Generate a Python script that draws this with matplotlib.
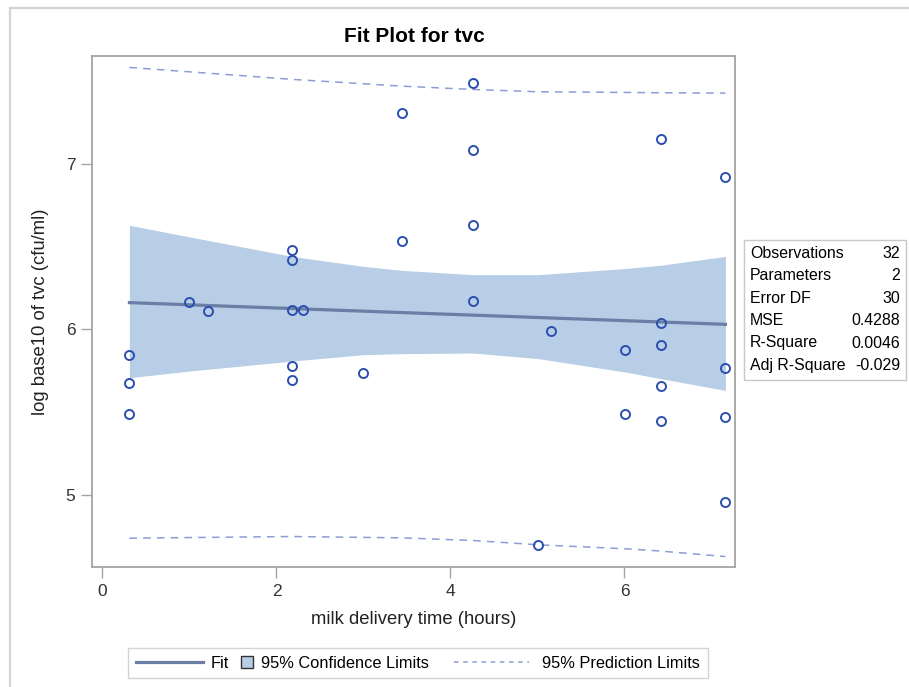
import matplotlib
matplotlib.use("Agg")
import matplotlib.pyplot as plt
from matplotlib.lines import Line2D
from matplotlib.patches import Rectangle, Patch
from matplotlib.legend_handler import HandlerBase

plt.rcParams['font.family'] = ['Liberation Sans', 'DejaVu Sans']

# ---- data ----
obs_x = [0.31, 0.31, 0.31, 1.00, 1.21,
         2.18, 2.18, 2.18, 2.18, 2.18, 2.31, 3.00,
         3.44, 3.44,
         4.26, 4.26, 4.26, 4.26,
         5.01, 5.16,
         6.01, 6.01,
         6.42, 6.42, 6.42, 6.42, 6.42,
         7.16, 7.16, 7.16, 7.16]
obs_y = [5.843, 5.674, 5.490, 6.162, 6.109,
         6.477, 6.417, 6.119, 5.780, 5.696, 6.119, 5.738,
         7.305, 6.532,
         7.488, 7.082, 6.627, 6.171,
         4.695, 5.988,
         5.875, 5.488,
         7.150, 6.038, 5.903, 5.660, 5.446,
         6.918, 5.764, 5.472, 4.955]

fit_x = [0.31, 7.16]
fit_y = [6.161, 6.030]

band_x = [0.31, 1.00, 2.18, 3.00, 3.44, 4.26, 5.01, 6.01, 6.42, 7.16]
clm_lo = [5.708, 5.748, 5.808, 5.847, 5.853, 5.857, 5.823, 5.742, 5.702, 5.631]
clm_hi = [6.628, 6.558, 6.440, 6.380, 6.356, 6.330, 6.330, 6.367, 6.387, 6.440]

pi_x = [0.31, 2.18, 3.44, 4.26, 5.01, 6.01, 6.42, 7.16]
pi_hi = [7.581, 7.509, 7.468, 7.448, 7.434, 7.430, 7.428, 7.426]
pi_lo = [4.739, 4.749, 4.741, 4.725, 4.699, 4.675, 4.661, 4.628]

x_ticks = [0, 2, 4, 6]
y_ticks = [5, 6, 7]

stat_labels = ["Observations", "Parameters", "Error DF", "MSE", "R-Square", "Adj R-Square"]
stat_values = ["32", "2", "30", "0.4288", "0.0046", "-0.029"]

legend_labels = ["Fit", "95% Confidence Limits", "95% Prediction Limits"]
title = "Fit Plot for tvc"
xlabel = "milk delivery time (hours)"
ylabel = "log base10 of tvc (cfu/ml)"

# ---- styles ----
band_color = "#b8cde6"
fit_color = "#6a7ea6"
pi_color = "#8c9dd6"
marker_color = "#2b4fb0"
spine_color = "#a4a4a4"

W, H = 909, 687
fig = plt.figure(figsize=(W / 100, H / 100), dpi=100)
ax = fig.add_axes([92 / W, 1 - 567 / H, (735 - 92) / W, (567 - 56) / H])

ax.fill_between(band_x, clm_lo, clm_hi, color=band_color, lw=0, zorder=1)
ax.plot(fit_x, fit_y, color=fit_color, lw=2.3, zorder=2)
ax.plot(pi_x, pi_hi, color=pi_color, lw=1.1, ls=(0, (5, 4)), zorder=2)
ax.plot(pi_x, pi_lo, color=pi_color, lw=1.1, ls=(0, (5, 4)), zorder=2)
ax.plot(obs_x, obs_y, ls='none', marker='o', ms=6.5, mfc='none',
        mec=marker_color, mew=1.4, zorder=3)

ax.set_xlim(-0.12, 7.27)
ax.set_ylim(4.565, 7.65)
ax.set_xticks(x_ticks)
ax.set_yticks(y_ticks)
ax.tick_params(axis='both', direction='out', length=8, width=1, color=spine_color,
               labelsize=12.5, labelcolor='#333333', pad=4)
for s in ax.spines.values():
    s.set_color(spine_color)
    s.set_linewidth(1.3)

ax.set_xlabel(xlabel, fontsize=13.3, color='#222222', labelpad=9)
ax.set_ylabel(ylabel, fontsize=13.3, color='#222222', labelpad=12)
fig.text(414 / W, 1 - 36 / H, title, ha='center', va='center',
         fontsize=15, fontweight='bold')

# ---- statistics table ----
tb_l, tb_r, tb_t, tb_b = 744, 906, 240, 380
fig.patches.append(Rectangle((tb_l / W, 1 - tb_b / H), (tb_r - tb_l) / W,
                             (tb_b - tb_t) / H, transform=fig.transFigure,
                             fill=False, edgecolor='#c8c8c8', lw=1))
row_y = [253, 275.5, 298, 320.5, 343, 365.5]
for lab, val, ry in zip(stat_labels, stat_values, row_y):
    fig.text(750 / W, 1 - ry / H, lab, ha='left', va='center', fontsize=11.4)
    fig.text(900 / W, 1 - ry / H, val, ha='right', va='center', fontsize=11.4)

# ---- outer border ----
fig.add_artist(Line2D([9.5 / W, 9.5 / W], [0, 1 - 7.5 / H], transform=fig.transFigure,
                      color='#d4d4d4', lw=1.6))
fig.add_artist(Line2D([9.5 / W, 1], [1 - 7.5 / H, 1 - 7.5 / H], transform=fig.transFigure,
                      color='#d4d4d4', lw=1.6))


# ---- legend ----
class SquareHandler(HandlerBase):
    def legend_artist(self, legend, orig_handle, fontsize, handlebox):
        s = 0.72 * fontsize
        handlebox.width = s
        r = Rectangle((0, -handlebox.ydescent + (handlebox.height - s) / 2), s, s,
                      facecolor=band_color, edgecolor='#333333', lw=1,
                      transform=handlebox.get_transform())
        handlebox.add_artist(r)
        return r


class OffsetLineHandler(HandlerBase):
    def __init__(self, left, length, right):
        super().__init__()
        self.left, self.length, self.right = left, length, right

    def legend_artist(self, legend, orig_handle, fontsize, handlebox):
        px = fig.dpi / 72.0
        handlebox.width = (self.left + self.length + self.right) / px
        y = (handlebox.height - handlebox.ydescent) / 2
        ln = Line2D([self.left / px, (self.left + self.length) / px], [y, y],
                    color=orig_handle.get_color(), lw=orig_handle.get_linewidth(),
                    ls=orig_handle.get_linestyle(),
                    transform=handlebox.get_transform())
        if orig_handle.get_linestyle() not in ('-', 'solid'):
            ln.set_dashes((3, 3))
        handlebox.add_artist(ln)
        return ln


h_fit = Line2D([], [], color=fit_color, lw=2.3, ls='-')
h_clm = Patch(facecolor=band_color, edgecolor='#333333')
h_pi = Line2D([], [], color=pi_color, lw=1.1, ls='--')
leg = fig.legend([h_fit, h_clm, h_pi], legend_labels,
                 handler_map={h_fit: OffsetLineHandler(0, 67, 0),
                              h_clm: SquareHandler(),
                              h_pi: OffsetLineHandler(13, 75, 5)},
                 loc='center', bbox_to_anchor=(418 / W, 1 - 663 / H), ncol=3,
                 fontsize=11.8, handlelength=4.1, handletextpad=0.5,
                 columnspacing=0.73, frameon=True, fancybox=False,
                 borderpad=0.45, borderaxespad=0)
leg.get_frame().set_edgecolor('#c8c8c8')
leg.get_frame().set_linewidth(1)

fig.savefig("out.png", dpi=100)
